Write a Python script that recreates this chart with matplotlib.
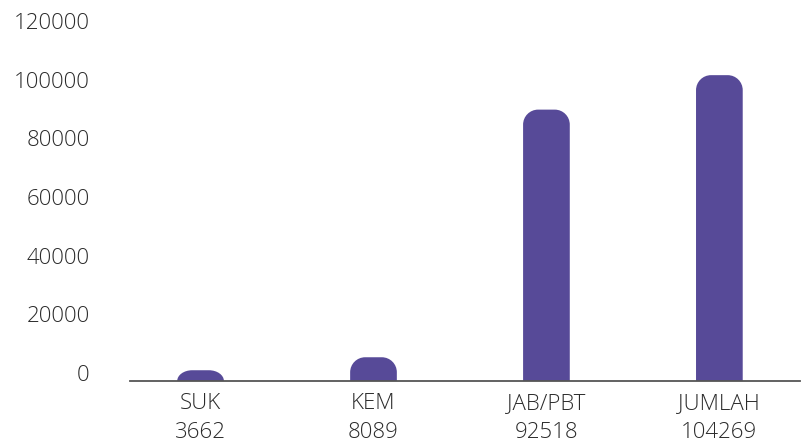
import matplotlib
matplotlib.use("Agg")
import matplotlib.pyplot as plt
from matplotlib.path import Path
import matplotlib.patches as mpatches

categories = ["SUK", "KEM", "JAB/PBT", "JUMLAH"]
values = [3662, 8089, 92518, 104269]
y_ticks = [0, 20000, 40000, 60000, 80000, 100000, 120000]

BAR_COLOR = "#574a98"
TEXT_COLOR = "#2b2b2b"
BAR_WIDTH = 0.27

plt.rcParams["font.family"] = ["Open Sans", "DejaVu Sans"]
plt.rcParams["font.weight"] = "light"

fig = plt.figure(figsize=(8.03, 4.43), dpi=100)
ax = fig.add_axes([0.162, 0.14, 0.834, 0.7945])
ax.set_xlim(-0.4075, 3.465)
ax.set_ylim(0, 120000)

# rounded-top bars: corner radius fixed in pixels, converted to data units
fig.canvas.draw()
px_per_x = ax.bbox.width / (ax.get_xlim()[1] - ax.get_xlim()[0])
px_per_y = ax.bbox.height / (ax.get_ylim()[1] - ax.get_ylim()[0])
radius_px = 15
k = 0.5523
for i, v in enumerate(values):
    x0, x1 = i - BAR_WIDTH / 2, i + BAR_WIDTH / 2
    rx = min(radius_px / px_per_x, BAR_WIDTH / 2)
    ry = min(radius_px / px_per_y, v)
    verts = [
        (x0, 0), (x0, v - ry),
        (x0, v - ry + k * ry), (x0 + rx - k * rx, v), (x0 + rx, v),
        (x1 - rx, v),
        (x1 - rx + k * rx, v), (x1, v - ry + k * ry), (x1, v - ry),
        (x1, 0), (x0, 0),
    ]
    codes = [Path.MOVETO, Path.LINETO,
             Path.CURVE4, Path.CURVE4, Path.CURVE4,
             Path.LINETO,
             Path.CURVE4, Path.CURVE4, Path.CURVE4,
             Path.LINETO, Path.CLOSEPOLY]
    ax.add_patch(mpatches.PathPatch(Path(verts, codes), facecolor=BAR_COLOR,
                                    edgecolor="none", zorder=2))

for side in ["top", "right", "left"]:
    ax.spines[side].set_visible(False)
ax.spines["bottom"].set_color("#555555")
ax.spines["bottom"].set_linewidth(1.3)
ax.spines["bottom"].set_zorder(3)

ax.set_yticks(y_ticks)
ax.set_yticklabels([str(t) for t in y_ticks])
for lbl in ax.get_yticklabels():
    lbl.set_verticalalignment("baseline")
ax.tick_params(axis="y", length=0, pad=29, labelsize=16, labelcolor=TEXT_COLOR)

ax.set_xticks(range(len(categories)))
ax.set_xticklabels([f"{c}\n{v}" for c, v in zip(categories, values)],
                   linespacing=1.5)
ax.tick_params(axis="x", length=0, pad=9, labelsize=16, labelcolor=TEXT_COLOR)

fig.savefig("out.png", dpi=100)
